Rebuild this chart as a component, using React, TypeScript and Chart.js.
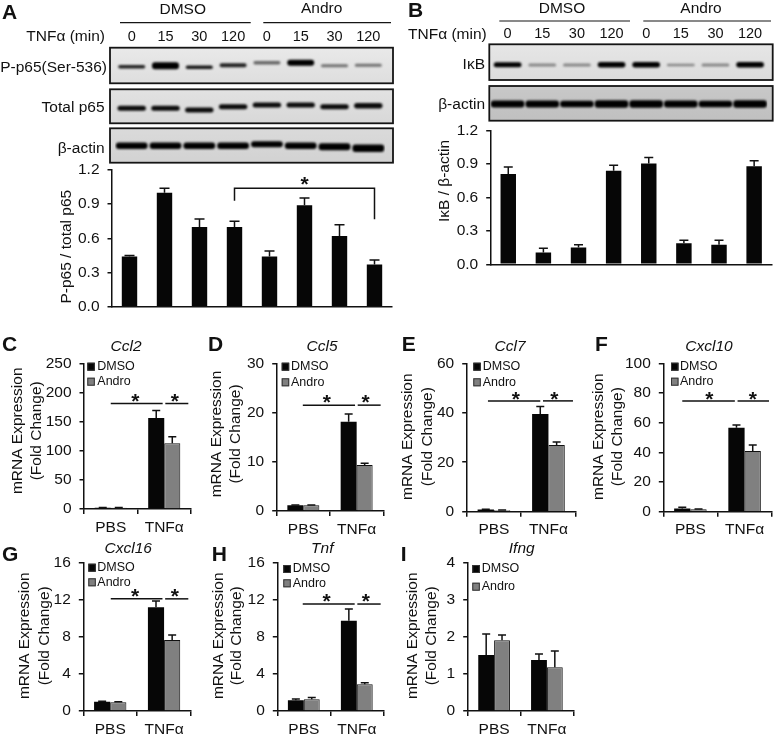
import { useEffect, useRef } from 'react';
import { Chart, registerables } from 'chart.js';

Chart.register(...registerables);

const FONT = '"Liberation Sans", Arial, sans-serif';
const INK = '#111111';
const BLACK_BAR = '#060606';
const GREY_BAR = '#808080';

/* ---------- data ---------- */
const groupCats = ['PBS', 'TNFα'];
const laneMinutes = ['0', '15', '30', '120', '0', '15', '30', '120'];
const laneKeys = ['d0', 'd15', 'd30', 'd120', 'a0', 'a15', 'a30', 'a120'];

const p65Ratio = [0.44, 1.0, 0.7, 0.7, 0.44, 0.89, 0.62, 0.37];
const p65RatioTop = [0.45, 1.04, 0.77, 0.75, 0.49, 0.955, 0.72, 0.41];
const ikbRatio = [0.81, 0.105, 0.15, 0.84, 0.905, 0.19, 0.175, 0.88];
const ikbRatioTop = [0.875, 0.145, 0.175, 0.89, 0.96, 0.215, 0.215, 0.93];

const ccl2Dmso = [2, 156];
const ccl2DmsoTop = [2.5, 169];
const ccl2Andro = [2, 113];
const ccl2AndroTop = [2.5, 124];
const ccl5Dmso = [1.15, 18.15];
const ccl5DmsoTop = [1.2, 19.7];
const ccl5Andro = [1.15, 9.35];
const ccl5AndroTop = [1.2, 9.7];
const ccl7Dmso = [0.9, 39.5];
const ccl7DmsoTop = [1.0, 42.5];
const ccl7Andro = [0.6, 27];
const ccl7AndroTop = [0.7, 28.2];
const cxcl10Dmso = [2.2, 56.6];
const cxcl10DmsoTop = [3, 58.4];
const cxcl10Andro = [1.6, 40.9];
const cxcl10AndroTop = [1.8, 45];
const cxcl16Dmso = [1.0, 11.2];
const cxcl16DmsoTop = [1.05, 11.87];
const cxcl16Andro = [0.95, 7.66];
const cxcl16AndroTop = [1.0, 8.2];
const tnfDmso = [1.15, 9.75];
const tnfDmsoTop = [1.3, 11];
const tnfAndro = [1.27, 2.88];
const tnfAndroTop = [1.45, 3.05];
const ifngDmso = [1.51, 1.375];
const ifngDmsoTop = [2.08, 1.54];
const ifngAndro = [1.91, 1.18];
const ifngAndroTop = [2.05, 1.62];

const pP65Level = [19, 18, 19.5, 17.5, 15, 15, 18, 17.5];
const pP65Thick = [3.5, 7, 3.5, 4, 3.5, 6, 3, 3];
const pP65Dark = [0.85, 1, 0.9, 0.85, 0.55, 1, 0.5, 0.5];
const totalLevel = [19, 19, 20.7, 17.4, 15.7, 15.7, 17.4, 16.4];
const totalThick = [5, 5, 5, 5, 5, 5, 5, 5.5];
const totalDark = [0.95, 0.95, 0.95, 0.95, 0.95, 0.95, 0.95, 0.95];
const actinALevel = [17.4, 17.4, 17.4, 17.4, 16, 17.4, 18.4, 20];
const actinAThick = [6.5, 6.5, 6.5, 6.5, 6, 6.5, 7, 7.5];
const actinADark = [1, 1, 1, 1, 1, 1, 1, 1];
const ikbLevel = [20.4, 20.8, 20.8, 20.4, 20.4, 20.8, 20.8, 20.4];
const ikbThick = [5, 3, 3, 5.5, 5.5, 2.5, 3, 5.5];
const ikbDark = [1, 0.4, 0.4, 1, 1, 0.4, 0.4, 1];
const actinBLevel = [18, 18, 18, 18, 18, 18, 18, 18];
const actinBThick = [7, 7, 6.5, 7.5, 7.5, 7, 6.5, 7.5];
const actinBDark = [1, 1, 1, 1, 1, 1, 1, 1];

/* ---------- drawing helpers ---------- */
type Txt = { t: string; x: number; y: number; size?: number; style?: string; align?: CanvasTextAlign; rot?: boolean };
const txt = (t: string, x: number, y: number, extra: Partial<Txt> = {}): Txt => ({ t, x, y, ...extra });
const letter = (t: string, x: number, y: number) => txt(t, x, y, { size: 21, style: 'bold', align: 'left' });
const geneTitle = (t: string, x: number, y: number) => txt(t, x, y, { style: 'italic' });
const yTitle = (t: string, x: number, y: number) => txt(t, x, y, { rot: true });

function drawTexts(ctx: CanvasRenderingContext2D, items: Txt[]) {
  for (const it of items) {
    ctx.save();
    ctx.fillStyle = INK;
    ctx.font = `${it.style ?? ''} ${it.size ?? 15.5}px ${FONT}`;
    ctx.textAlign = it.align ?? 'center';
    ctx.textBaseline = 'middle';
    ctx.translate(it.x, it.y);
    if (it.rot) ctx.rotate(-Math.PI / 2);
    ctx.fillText(it.t, 0, 0);
    ctx.restore();
  }
}

type BarSpec = {
  plot: [number, number, number, number];
  max: number;
  step: number;
  decimals?: number;
  cats: string[];
  series: { label: string; color: string; values: number[]; tops: number[] }[];
  capWidth: number;
  showX: boolean;
  legend?: { boxX: number; textX: number; y1: number; y2: number };
  lines?: [number, number][][];
  stars?: [number, number][];
  texts: Txt[];
};

function barConfig(s: BarSpec): any {
  const [L, T, R, B] = s.plot;
  const yW = 60;
  const xH = 25;
  const plugin = {
    id: 'figureMarks',
    afterDatasetsDraw(chart: any) {
      const { ctx, scales } = chart;
      const { x, y } = scales;
      ctx.save();
      ctx.strokeStyle = INK;
      ctx.lineWidth = 1.5;
      s.series.forEach((ser, i) => {
        const meta = chart.getDatasetMeta(i);
        ser.tops.forEach((top, j) => {
          const px = meta.data[j].x;
          const y0 = y.getPixelForValue(ser.values[j]);
          const y1 = y.getPixelForValue(top);
          ctx.beginPath();
          ctx.moveTo(px, y0);
          ctx.lineTo(px, y1);
          ctx.moveTo(px - s.capWidth / 2, y1);
          ctx.lineTo(px + s.capWidth / 2, y1);
          ctx.stroke();
        });
      });
      (s.lines ?? []).forEach((poly) => {
        ctx.beginPath();
        poly.forEach(([a, b], k) => {
          const px = x.getPixelForValue(a);
          const py = y.getPixelForValue(b);
          if (k === 0) ctx.moveTo(px, py);
          else ctx.lineTo(px, py);
        });
        ctx.stroke();
      });
      ctx.restore();
      ctx.save();
      ctx.fillStyle = INK;
      ctx.font = `bold 21px ${FONT}`;
      ctx.textAlign = 'center';
      ctx.textBaseline = 'alphabetic';
      (s.stars ?? []).forEach(([a, b]) => {
        ctx.fillText('*', x.getPixelForValue(a), y.getPixelForValue(b) + 12);
      });
      ctx.restore();
      if (s.legend) {
        const lg = s.legend;
        s.series.forEach((ser, i) => {
          const cy = i === 0 ? lg.y1 : lg.y2;
          ctx.save();
          ctx.fillStyle = ser.color;
          ctx.strokeStyle = '#333';
          ctx.lineWidth = 1;
          ctx.fillRect(lg.boxX, cy - 4, 7.5, 8);
          ctx.strokeRect(lg.boxX + 0.5, cy - 3.5, 6.5, 7);
          ctx.restore();
          drawTexts(ctx, [txt(ser.label, lg.textX, cy, { size: 12.5, align: 'left' })]);
        });
      }
      drawTexts(ctx, s.texts);
    },
  };
  const grouped = s.series.length > 1;
  return {
    type: 'bar',
    data: {
      labels: s.cats,
      datasets: s.series.map((ser) => ({
        label: ser.label,
        data: ser.values,
        backgroundColor: ser.color,
        borderColor: '#111',
        borderWidth: ser.color === GREY_BAR ? 1 : 0,
        categoryPercentage: grouped ? 0.6 : 1,
        barPercentage: grouped ? 1 : 0.44,
      })),
    },
    options: {
      responsive: false,
      animation: false,
      devicePixelRatio: 1,
      events: [],
      layout: { padding: { left: L - yW, top: T, right: 775 - R, bottom: 737 - B - xH } },
      plugins: { legend: { display: false }, tooltip: { enabled: false }, title: { display: false } },
      scales: {
        x: {
          type: 'category',
          offset: true,
          border: { color: INK, width: 1.5 },
          grid: { display: s.showX, drawOnChartArea: false, drawTicks: s.showX, tickLength: 5, offset: true, color: INK, lineWidth: 1.5 },
          ticks: { display: s.showX, padding: 4, color: INK, font: { family: FONT, size: 15.5 }, maxRotation: 0, autoSkip: false },
          afterFit: (sc: any) => { sc.height = xH; },
        },
        y: {
          min: 0,
          max: s.max,
          border: { color: INK, width: 1.5 },
          grid: { display: true, drawOnChartArea: false, drawTicks: true, tickLength: 4.5, color: INK, lineWidth: 1.5 },
          ticks: {
            stepSize: s.step,
            padding: 8,
            color: INK,
            autoSkip: false,
            font: { family: FONT, size: 15.5 },
            callback: (v: number) => (s.decimals ? v.toFixed(s.decimals) : String(v)),
          },
          afterFit: (sc: any) => { sc.width = yW; },
        },
      },
    },
    plugins: [plugin],
  };
}

type BlotSpec = {
  plot: [number, number, number, number];
  frame: [number, number];
  bg: [string, string];
  level: number[];
  thick: number[];
  dark: number[];
  laneWidth: number;
  withLanes: boolean;
  texts: Txt[];
  rules?: [number, number, number][];
};

function blotConfig(s: BlotSpec): any {
  const [L, T, R, B] = s.plot;
  const xH = 24;
  const plugin = {
    id: 'blotFrame',
    beforeDatasetsDraw(chart: any) {
      const { ctx } = chart;
      ctx.save();
      const g = ctx.createLinearGradient(0, T, 0, B);
      g.addColorStop(0, s.bg[0]);
      g.addColorStop(1, s.bg[1]);
      ctx.fillStyle = g;
      ctx.fillRect(s.frame[0], T, s.frame[1] - s.frame[0], B - T);
      ctx.restore();
      ctx.save();
      ctx.filter = 'blur(1.1px)';
    },
    afterDatasetsDraw(chart: any) {
      const { ctx } = chart;
      ctx.restore();
      ctx.save();
      ctx.strokeStyle = '#151515';
      ctx.lineWidth = 1.8;
      ctx.strokeRect(s.frame[0], T, s.frame[1] - s.frame[0], B - T);
      (s.rules ?? []).forEach(([x0, x1, y]) => {
        ctx.lineWidth = 1.2;
        ctx.beginPath();
        ctx.moveTo(x0, y);
        ctx.lineTo(x1, y);
        ctx.stroke();
      });
      ctx.restore();
      drawTexts(ctx, s.texts);
    },
  };
  return {
    type: 'bar',
    data: {
      labels: laneKeys,
      datasets: [
        {
          label: 'band',
          data: s.level.map((c, i) => [c - s.thick[i] / 2, c + s.thick[i] / 2]),
          backgroundColor: s.dark.map((d) => `rgba(0,0,0,${d})`),
          borderWidth: 0,
          borderRadius: 3,
          borderSkipped: false,
          categoryPercentage: 1,
          barPercentage: s.laneWidth,
        },
      ],
    },
    options: {
      responsive: false,
      animation: false,
      devicePixelRatio: 1,
      events: [],
      layout: { padding: { left: L, top: T - xH, right: 775 - R, bottom: 737 - B } },
      plugins: { legend: { display: false }, tooltip: { enabled: false } },
      scales: {
        x: {
          type: 'category',
          position: 'top',
          offset: true,
          border: { display: false },
          grid: { display: false, drawTicks: false, tickLength: 0 },
          ticks: {
            display: s.withLanes,
            padding: 2,
            color: INK,
            maxRotation: 0,
            autoSkip: false,
            font: { family: FONT, size: 14.5 },
            callback: (_v: number, i: number) => laneMinutes[i],
          },
          afterFit: (sc: any) => { sc.height = xH; },
        },
        y: { display: false, reverse: true, min: 0, max: B - T },
      },
    },
    plugins: [plugin],
  };
}

const dmso = (values: number[], tops: number[]) => ({ label: 'DMSO', color: BLACK_BAR, values, tops });
const andro = (values: number[], tops: number[]) => ({ label: 'Andro', color: GREY_BAR, values, tops });
const twoLines = (a: number, b: number, y: number) =>
  [[[a, y], [b, y]], [[b + 0.05, y], [1.45, y]]] as [number, number][][];

/* ---------- panels ---------- */
const configs: any[] = [
  blotConfig({
    plot: [114.8, 47.7, 385.2, 83.3], frame: [110, 393], bg: ['#e9e9e9', '#dedede'],
    level: pP65Level, thick: pP65Thick, dark: pP65Dark, laneWidth: 0.8, withLanes: true,
    rules: [[120, 250.7, 22.7], [263.3, 391, 22.7]],
    texts: [
      letter('A', 2, 13),
      txt('DMSO', 182.7, 9.5),
      txt('Andro', 321.7, 9),
      txt('TNFα (min)', 105, 36.7, { align: 'right' }),
      txt('P-p65(Ser-536)', 107, 67.7, { align: 'right' }),
    ],
  }),
  blotConfig({
    plot: [114.8, 89.3, 385.2, 123.3], frame: [110, 393], bg: ['#e2e2e2', '#d8d8d8'],
    level: totalLevel, thick: totalThick, dark: totalDark, laneWidth: 0.84, withLanes: false,
    texts: [txt('Total p65', 104.5, 108, { align: 'right' })],
  }),
  blotConfig({
    plot: [114.8, 128.3, 385.2, 162.7], frame: [110, 393], bg: ['#dadada', '#d2d2d2'],
    level: actinALevel, thick: actinAThick, dark: actinADark, laneWidth: 0.94, withLanes: false,
    texts: [txt('β-actin', 104.5, 148.3, { align: 'right' })],
  }),
  blotConfig({
    plot: [490.3, 44.3, 767.4, 80], frame: [489.3, 772.7], bg: ['#e6e6e6', '#dcdcdc'],
    level: ikbLevel, thick: ikbThick, dark: ikbDark, laneWidth: 0.8, withLanes: true,
    rules: [[499.3, 630, 21], [643.3, 771, 21]],
    texts: [
      letter('B', 408, 11),
      txt('DMSO', 562, 9),
      txt('Andro', 701, 8.5),
      txt('TNFα (min)', 486.7, 34.7, { align: 'right' }),
      txt('IκB', 485, 64.3, { align: 'right' }),
    ],
  }),
  blotConfig({
    plot: [490.3, 86, 767.4, 120.7], frame: [489.3, 772.7], bg: ['#c8c8c8', '#c0c0c0'],
    level: actinBLevel, thick: actinBThick, dark: actinBDark, laneWidth: 0.97, withLanes: false,
    texts: [txt('β-actin', 485, 105, { align: 'right' })],
  }),
  barConfig({
    plot: [112, 170, 392, 306.7], max: 1.2, step: 0.3, decimals: 1, cats: laneKeys,
    series: [{ label: 'P-p65 / total p65', color: BLACK_BAR, values: p65Ratio, tops: p65RatioTop }],
    capWidth: 10, showX: false,
    lines: [[[3, 0.93], [3, 1.039], [7, 1.039], [7, 0.767]]],
    stars: [[5, 1.12]],
    texts: [yTitle('P-p65 / total p65', 66.7, 246.7)],
  }),
  barConfig({
    plot: [490.7, 130.7, 771.7, 264.3], max: 1.2, step: 0.3, decimals: 1, cats: laneKeys,
    series: [{ label: 'IκB / β-actin', color: BLACK_BAR, values: ikbRatio, tops: ikbRatioTop }],
    capWidth: 9, showX: false,
    texts: [yTitle('IκB / β-actin', 444.3, 181)],
  }),
  barConfig({
    plot: [84, 363.3, 191, 509], max: 250, step: 50, cats: groupCats,
    series: [dmso(ccl2Dmso, ccl2DmsoTop), andro(ccl2Andro, ccl2AndroTop)],
    capWidth: 8, showX: true,
    legend: { boxX: 87.3, textX: 97.3, y1: 366.7, y2: 381.7 },
    lines: twoLines(0, 0.97, 181), stars: [[0.46, 194], [1.2, 194]],
    texts: [
      letter('C', 2, 345), geneTitle('Ccl2', 126, 346.7),
      yTitle('mRNA Expression', 17.7, 430.8), yTitle('(Fold Change)', 37, 430.8),
    ],
  }),
  barConfig({
    plot: [276.7, 363.3, 383.3, 511], max: 30, step: 10, cats: groupCats,
    series: [dmso(ccl5Dmso, ccl5DmsoTop), andro(ccl5Andro, ccl5AndroTop)],
    capWidth: 8, showX: true,
    legend: { boxX: 281.7, textX: 291, y1: 366.7, y2: 382.3 },
    lines: twoLines(-0.01, 0.97, 21.5), stars: [[0.44, 23.1], [1.17, 23.1]],
    texts: [
      letter('D', 208, 345), geneTitle('Ccl5', 322, 347),
      yTitle('mRNA Expression', 216.7, 434), yTitle('(Fold Change)', 235.7, 434),
    ],
  }),
  barConfig({
    plot: [466.7, 363.3, 575.7, 511.7], max: 60, step: 20, cats: groupCats,
    series: [dmso(ccl7Dmso, ccl7DmsoTop), andro(ccl7Andro, ccl7AndroTop)],
    capWidth: 8, showX: true,
    legend: { boxX: 473.3, textX: 482.7, y1: 366.7, y2: 382.3 },
    lines: twoLines(-0.11, 0.85, 44.8), stars: [[0.4, 47.6], [1.11, 47.6]],
    texts: [
      letter('E', 401.7, 345), geneTitle('Ccl7', 510, 347),
      yTitle('mRNA Expression', 407.7, 436.7), yTitle('(Fold Change)', 427.7, 436.7),
    ],
  }),
  barConfig({
    plot: [663.3, 363.3, 771.7, 511.7], max: 100, step: 20, cats: groupCats,
    series: [dmso(cxcl10Dmso, cxcl10DmsoTop), andro(cxcl10Andro, cxcl10AndroTop)],
    capWidth: 8, showX: true,
    legend: { boxX: 671, textX: 680, y1: 366.7, y2: 381.7 },
    lines: twoLines(-0.15, 0.82, 74.6), stars: [[0.35, 79.3], [1.15, 79.3]],
    texts: [
      letter('F', 595, 345), geneTitle('Cxcl10', 709, 347),
      yTitle('mRNA Expression', 598.3, 436.7), yTitle('(Fold Change)', 617.3, 436.7),
    ],
  }),
  barConfig({
    plot: [83.3, 562.7, 191, 711], max: 16, step: 4, cats: groupCats,
    series: [dmso(cxcl16Dmso, cxcl16DmsoTop), andro(cxcl16Andro, cxcl16AndroTop)],
    capWidth: 8, showX: true,
    legend: { boxX: 88.3, textX: 97.3, y1: 567.7, y2: 582.3 },
    lines: twoLines(0.01, 0.97, 12.1), stars: [[0.46, 12.9], [1.2, 12.9]],
    texts: [
      letter('G', 2, 555), geneTitle('Cxcl16', 128.3, 549),
      yTitle('mRNA Expression', 25, 635.8), yTitle('(Fold Change)', 44.3, 635.8),
    ],
  }),
  barConfig({
    plot: [277.3, 562.7, 383.3, 711], max: 16, step: 4, cats: groupCats,
    series: [dmso(tnfDmso, tnfDmsoTop), andro(tnfAndro, tnfAndroTop)],
    capWidth: 8, showX: true,
    legend: { boxX: 283.3, textX: 292.7, y1: 569, y2: 583.3 },
    lines: twoLines(-0.02, 0.96, 11.54), stars: [[0.43, 12.4], [1.17, 12.4]],
    texts: [
      letter('H', 211.7, 555), geneTitle('Tnf', 322.3, 549),
      yTitle('mRNA Expression', 218.3, 635.8), yTitle('(Fold Change)', 236.7, 635.8),
    ],
  }),
  barConfig({
    plot: [467.7, 562.7, 573.3, 711], max: 4, step: 1, cats: groupCats,
    series: [dmso(ifngDmso, ifngDmsoTop), andro(ifngAndro, ifngAndroTop)],
    capWidth: 8, showX: true,
    legend: { boxX: 472.3, textX: 481.7, y1: 569, y2: 586.7 },
    texts: [
      letter('I', 400.7, 555), geneTitle('Ifng', 521.7, 549),
      yTitle('mRNA Expression', 412.7, 635.8), yTitle('(Fold Change)', 431.7, 635.8),
    ],
  }),
];

function Panel({ config }: { config: any }) {
  const ref = useRef<HTMLCanvasElement | null>(null);
  useEffect(() => {
    const chart = new Chart(ref.current as HTMLCanvasElement, config);
    return () => chart.destroy();
  }, [config]);
  return <canvas ref={ref} width={775} height={737} style={{ position: 'absolute', left: 0, top: 0, width: 775, height: 737 }} />;
}

export default function App() {
  return (
    <div style={{ position: 'absolute', left: 0, top: 0, width: 775, height: 737, background: '#fff', overflow: 'hidden' }}>
      {configs.map((c, i) => (
        <Panel key={i} config={c} />
      ))}
    </div>
  );
}
